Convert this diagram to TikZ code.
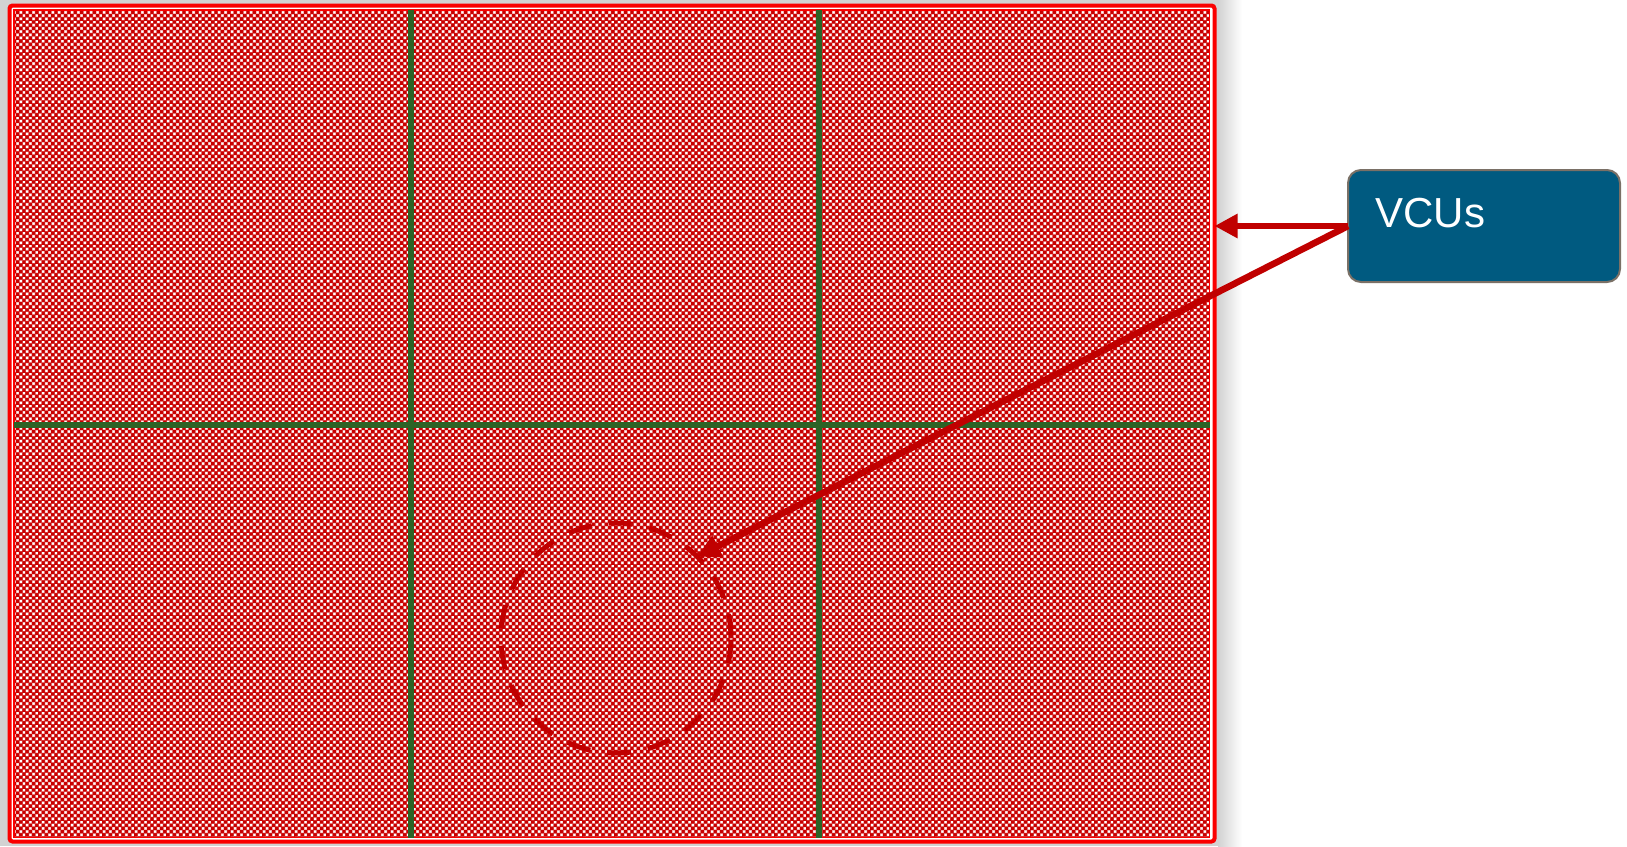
\documentclass[tikz,border=0pt]{standalone}
\usepackage{fontspec}
\setmainfont{Liberation Sans}
\usetikzlibrary{arrows.meta,patterns,calc}
\definecolor{framered}{RGB}{250,0,0}
\definecolor{checkred}{RGB}{200,0,0}
\definecolor{arrowred}{RGB}{192,0,0}
\definecolor{gridgreen}{RGB}{44,99,38}
\definecolor{boxblue}{RGB}{0,90,128}
\definecolor{boxborder}{RGB}{122,112,102}
\definecolor{shadowgray}{RGB}{210,210,210}
\pgfdeclarepatterninherentlycolored{vcuchecks}{\pgfpoint{-0.1pt}{-0.1pt}}{\pgfpoint{3.3pt}{3.3pt}}{\pgfpoint{3.2pt}{3.2pt}}{%
  \pgfsetfillcolor{checkred}%
  \pgfpathrectangle{\pgfpoint{-0.1pt}{-0.1pt}}{\pgfpoint{3.4pt}{3.4pt}}%
  \pgfusepath{fill}%
  \definecolor{checkpink}{RGB}{238,150,150}%
  \pgfsetfillcolor{checkpink}%
  \pgfpathrectangle{\pgfpoint{0.05pt}{0.05pt}}{\pgfpoint{1.5pt}{1.5pt}}%
  \pgfpathrectangle{\pgfpoint{1.65pt}{1.65pt}}{\pgfpoint{1.5pt}{1.5pt}}%
  \pgfusepath{fill}%
  \pgfsetfillcolor{white}%
  \pgfpathrectangle{\pgfpoint{0.3pt}{0.3pt}}{\pgfpoint{1.0pt}{1.0pt}}%
  \pgfpathrectangle{\pgfpoint{1.9pt}{1.9pt}}{\pgfpoint{1.0pt}{1.0pt}}%
  \pgfusepath{fill}}
\begin{document}
\begin{tikzpicture}[x=0.5pt,y=-0.5pt,
  outerframe/.style={draw=framered,line width=2pt,rounded corners=1.5pt,inner sep=0pt,outer sep=0pt,
    minimum width=602.5pt,minimum height=418pt},
  innerframe/.style={draw=framered,line width=0.9pt,inner sep=0pt,outer sep=0pt,
    minimum width=597.75pt,minimum height=413.75pt},
  gridline/.style={draw=gridgreen,line width=2.9pt},
  ring/.style={circle,draw=arrowred,line width=2.5pt,dash pattern=on 12pt off 8.5pt,inner sep=0pt,outer sep=0pt,minimum size=115pt},
  vcubox/.style={draw=boxborder,fill=boxblue,line width=1pt,rounded corners=6.5pt,inner sep=0pt,outer sep=0pt,
    minimum width=136pt,minimum height=56pt},
  vculabel/.style={text=white,font=\fontsize{21}{25}\selectfont,inner sep=0pt},
  pointer/.style={draw=arrowred,line width=3.3pt,-{Triangle[length=11.5pt,width=11.5pt]}}]
\useasboundingbox (0,0) rectangle (1627,846);
\fill[white] (0,0) rectangle (1627,846);
\fill[shadowgray] (0,0) rectangle (1218,846);
\shade[left color=shadowgray,right color=white] (1218,0) rectangle (1242,846);
\fill[white,rounded corners=1.5pt] (9.5,5.5) rectangle (1214.5,841.5);
\fill[pattern=vcuchecks] (14,10) rectangle (1209.5,837.5);
\node[outerframe] (frame) at (612,423.5) {};
\node[innerframe] (inner) at (611.75,423.75) {};
\draw[gridline] (411,10) -- (411,838);
\draw[gridline] (819,10) -- (819,838);
\draw[gridline] (14,425) -- (1210,425);
\node[ring] (ring) at (616,638) {};
\node[vcubox] (vcu) at (1484,226) {};
\node[vculabel,anchor=base west] (vcutext) at (1375,227) {VCUs};
\draw[pointer] (vcu.west) -- (frame.east |- vcu.west);
\draw[pointer] (vcu.west) -- (ring.45);
\end{tikzpicture}
\end{document}
